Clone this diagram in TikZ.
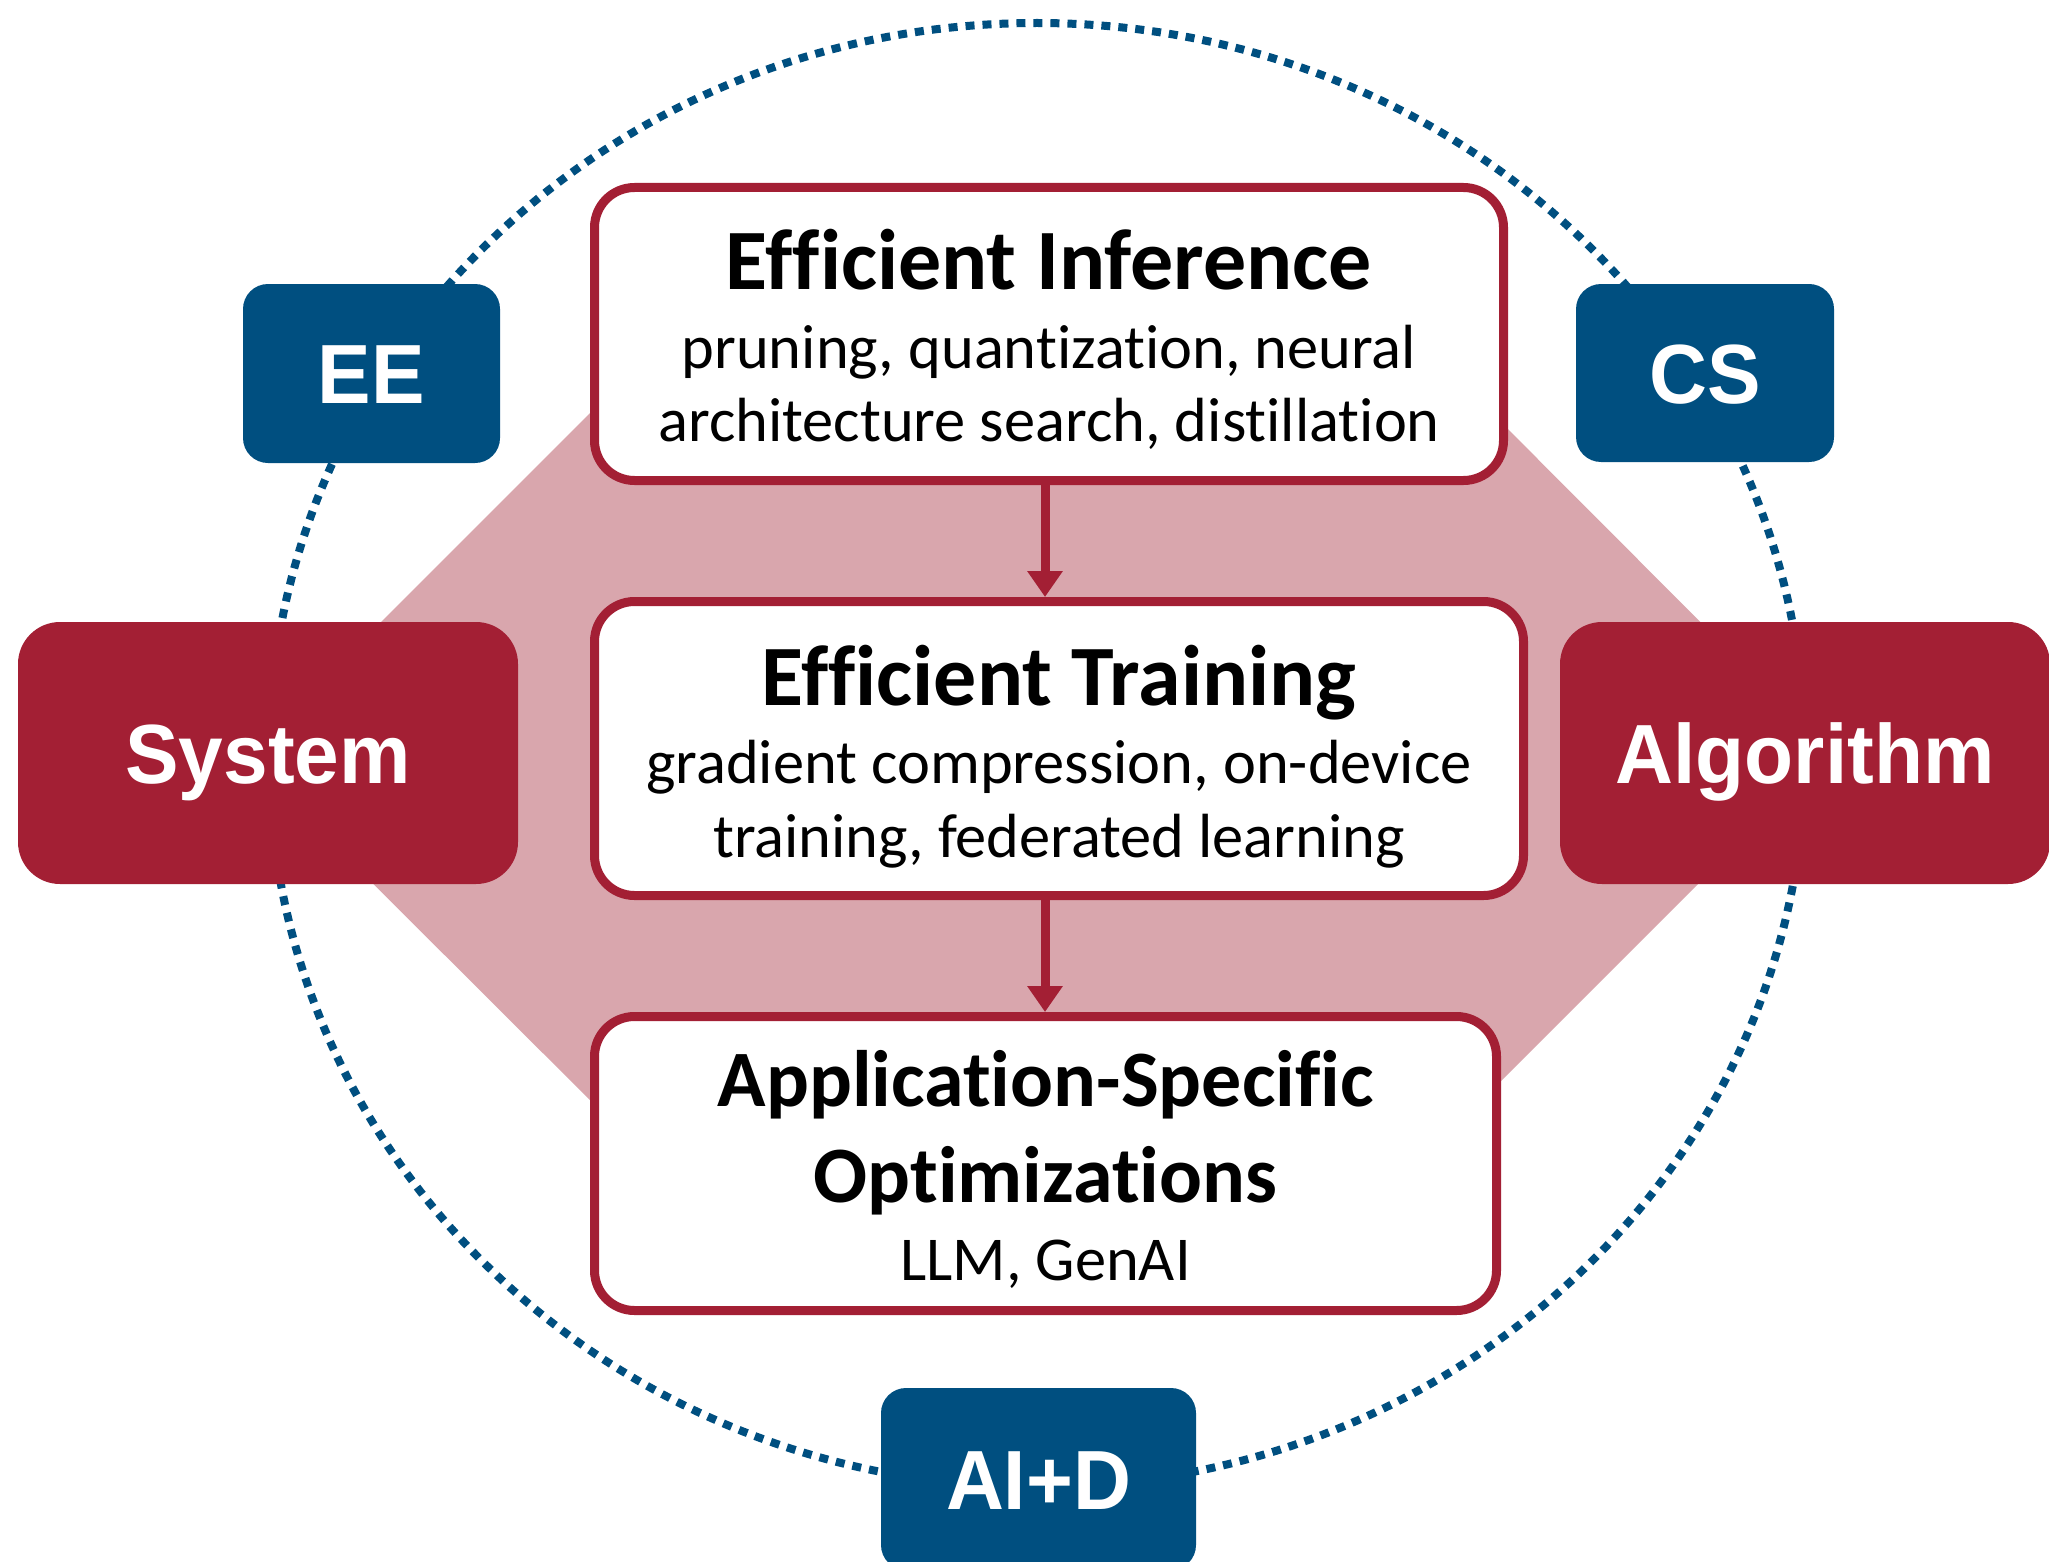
\documentclass[tikz,border=0pt]{standalone}
\usepackage{fontspec}
\usetikzlibrary{arrows.meta}
\newfontfamily\boxfont[Ligatures=NoCommon]{Carlito}
\newfontfamily\tagfont[FakeStretch=0.955]{Liberation Sans}
\definecolor{mitred}{HTML}{A31F34}
\definecolor{tagblue}{HTML}{004F80}
\definecolor{hexpink}{HTML}{D9A6AD}
\begin{document}
\begin{tikzpicture}[x=0.5pt,y=-0.5pt,
  redbox/.style={draw=mitred, line width=4.5pt, fill=white, rounded corners=20pt, inner sep=0pt},
  titletext/.style={font=\boxfont\bfseries\fontsize{43}{48}\selectfont, anchor=base, inner sep=0pt},
  apptitle/.style={font=\boxfont\bfseries\fontsize{40}{46}\selectfont, anchor=base, inner sep=0pt},
  bodytext/.style={font=\boxfont\fontsize{31.2}{36}\selectfont, anchor=base, inner sep=0pt},
  areabox/.style={fill=mitred, text=white, rounded corners=21pt, inner sep=0pt,
    font=\tagfont\bfseries\fontsize{42}{48}\selectfont, text height=30pt, text depth=0pt},
  tagbox/.style={fill=tagblue, text=white, rounded corners=12.5pt, inner sep=0pt,
    font=\tagfont\bfseries\fontsize{42}{48}\selectfont, text height=30pt, text depth=0pt},
  orbit/.style={draw=tagblue, line width=4pt, dash pattern=on 4.5pt off 4pt},
  flow/.style={draw=mitred, line width=4.5pt, -{Triangle[width=17pt,length=13pt]}}
]
\useasboundingbox (0,0) rectangle (2049,1562);
\fill[white] (0,0) rectangle (2049,1562);

% dotted orbit
\draw[orbit] (1037,755) ellipse [x radius=384pt, y radius=366pt];

% pink hexagon
\fill[hexpink] (653,350) -- (1429,350) -- (1830,752) -- (1432,1150) -- (640,1150) -- (246,757) -- cycle;

% central boxes
\node[redbox, minimum width=454.5pt, minimum height=146.5pt] (inf) at (1049,334) {};
\node[redbox, minimum width=464.5pt, minimum height=147pt] (trn) at (1059,748.5) {};
\node[redbox, minimum width=451pt, minimum height=147pt] (app) at (1045.5,1163.5) {};

\node[titletext] (infT) at ([yshift=-53pt]inf.north) {Efficient Inference};
\node[bodytext] (infA) at ([yshift=-92.5pt]inf.north) {pruning, quantization, neural};
\node[bodytext] (infB) at ([yshift=-129pt]inf.north) {architecture search, distillation};

\node[titletext] (trnT) at ([yshift=-54pt]trn.north) {Efficient Training};
\node[bodytext] (trnA) at ([yshift=-93pt]trn.north) {gradient compression, on-device};
\node[bodytext] (trnB) at ([yshift=-130pt]trn.north) {training, federated learning};

\node[apptitle] (appT) at ([yshift=-47pt]app.north) {Application-Specific};
\node[apptitle] (appU) at ([yshift=-95pt]app.north) {Optimizations};
\node[bodytext] (appA) at ([yshift=-134pt]app.north) {LLM, GenAI};

% arrows
\coordinate (ax) at (1045,0);
\draw[flow] (inf.south -| ax) -- (trn.north -| ax);
\draw[flow] (trn.south -| ax) -- (app.north -| ax);

% side boxes
\node[areabox, minimum width=250pt, minimum height=131pt] (sys) at (268,753) {System};
\node[areabox, minimum width=245pt, minimum height=131pt] (alg) at (1805,753) {Algorithm};

% discipline tags
\node[tagbox, minimum width=128.5pt, minimum height=89.5pt] (ee) at (371.5,373.5) {EE};
\node[tagbox, minimum width=129pt, minimum height=89pt] (cs) at (1705,373) {CS};
\node[tagbox, minimum width=157.5pt, minimum height=91pt] (aid) at (1038.5,1479) {AI+D};
\end{tikzpicture}
\end{document}
